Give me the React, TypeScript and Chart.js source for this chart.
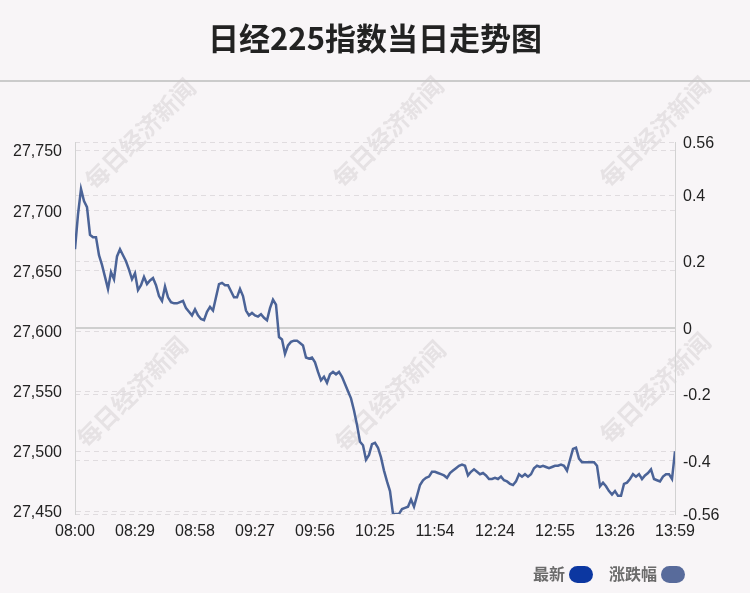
import React, { useEffect, useRef } from "react";
import { Chart, registerables } from "chart.js";

Chart.register(...registerables);

const titleText = "日经225指数当日走势图";
const watermarkText = "每日经济新闻";
const timeLabels = ["08:00", "08:29", "08:58", "09:27", "09:56", "10:25", "11:54", "12:24", "12:55", "13:26", "13:59"];
const priceTicks = [27450, 27500, 27550, 27600, 27650, 27700, 27750];
const pctTicks = [-0.56, -0.4, -0.2, 0, 0.2, 0.4, 0.56];
const prevClose = 27602.5;
const seriesNames = ["最新", "涨跌幅"];
const legendColors = ["#0c37a1", "#586b9b"];

const prices = [
  27668, 27697, 27718, 27708, 27703, 27680, 27678, 27678, 27663, 27655,
  27645, 27635, 27649, 27643, 27662, 27668, 27663, 27658, 27651, 27643,
  27648, 27634, 27638, 27645, 27639, 27642, 27644, 27638, 27629, 27625,
  27637, 27628, 27624, 27623, 27623, 27624, 27625, 27619, 27616, 27613,
  27618, 27613, 27610, 27609, 27616, 27620, 27617, 27628, 27639, 27640,
  27638, 27638, 27633, 27628, 27628, 27635, 27629, 27617, 27613, 27615,
  27613, 27612, 27614, 27611, 27609, 27619, 27626, 27622, 27595, 27593,
  27581, 27588, 27591, 27592, 27592, 27590, 27588, 27578, 27577, 27578,
  27574, 27566, 27559, 27562, 27557, 27564, 27566, 27564, 27566, 27562,
  27556, 27550, 27544, 27534, 27522, 27508, 27505, 27493, 27497, 27506,
  27507, 27503, 27495, 27484, 27475, 27467, 27448, 27448, 27448, 27452,
  27453, 27454, 27460, 27454, 27463, 27472, 27476, 27478, 27479, 27483,
  27483, 27482, 27481, 27480, 27478, 27482, 27484, 27486, 27488, 27489,
  27488, 27480, 27483, 27485, 27483, 27481, 27482, 27480, 27477, 27477,
  27478, 27477, 27479, 27476, 27475, 27473, 27472, 27475, 27481, 27479,
  27481, 27479, 27481, 27486, 27488, 27487, 27488, 27487, 27486, 27487,
  27488, 27488, 27489, 27488, 27484, 27493, 27502, 27503, 27494, 27491,
  27491, 27491, 27491, 27491, 27488, 27471, 27474, 27471, 27467, 27464,
  27467, 27463, 27463, 27473, 27474, 27477, 27481, 27479, 27481, 27477,
  27480, 27482, 27485, 27477, 27476, 27475, 27479, 27481, 27481, 27477,
  27500,
];

const FONT = "'Liberation Sans', Arial, sans-serif";
const CJK = "'Noto Sans CJK SC', 'Noto Sans', sans-serif";

const decorPlugin = {
  id: "decor",
  beforeDraw(chart: any) {
    const ctx = chart.ctx as CanvasRenderingContext2D;
    ctx.save();
    // title
    ctx.fillStyle = "#222";
    ctx.font = `bold 31px ${CJK}`;
    ctx.textAlign = "center";
    ctx.textBaseline = "middle";
    ctx.fillText(titleText, 375, 38);
    // separator
    ctx.strokeStyle = "#bdbdbd";
    ctx.lineWidth = 1.5;
    ctx.beginPath();
    ctx.moveTo(0, 81);
    ctx.lineTo(750, 81);
    ctx.stroke();
    // watermarks
    const spots = [
      [140, 134], [388, 132], [655, 132],
      [132, 392], [390, 396], [655, 388],
    ];
    ctx.font = `bold 24px ${CJK}`;
    ctx.fillStyle = "rgba(200,194,198,0.38)";
    for (const [x, y] of spots) {
      ctx.save();
      ctx.translate(x, y);
      ctx.rotate(-Math.PI / 4);
      ctx.fillText(watermarkText, 0, 0);
      ctx.restore();
    }
    ctx.restore();
  },
  afterDraw(chart: any) {
    const ctx = chart.ctx as CanvasRenderingContext2D;
    ctx.save();
    ctx.font = `bold 16px ${CJK}`;
    ctx.textBaseline = "middle";
    ctx.textAlign = "right";
    const items = [
      { textRight: 565, pillX: 569 },
      { textRight: 657, pillX: 661 },
    ];
    items.forEach((it, i) => {
      ctx.fillStyle = "#6b6b6b";
      ctx.fillText(seriesNames[i], it.textRight, 574);
      ctx.fillStyle = legendColors[i];
      ctx.beginPath();
      (ctx as any).roundRect(it.pillX, 566, 24, 17, 8.5);
      ctx.fill();
    });
    ctx.restore();
  },
};

export default function App() {
  const ref = useRef<HTMLCanvasElement | null>(null);

  useEffect(() => {
    if (!ref.current) return;
    const pctMax = pctTicks[pctTicks.length - 1];
    const pctMin = pctTicks[0];
    const priceMin = prevClose * (1 + pctMin / 100);
    const priceMax = prevClose * (1 + pctMax / 100);
    const priceData = prices.map((p, i) => ({ x: i, y: p }));
    const pctData = prices.map((p, i) => ({ x: i, y: (p / prevClose - 1) * 100 }));
    const lastIndex = prices.length - 1;
    const step = lastIndex / (timeLabels.length - 1);

    const chart = new Chart(ref.current, {
      type: "line",
      data: {
        datasets: [
          {
            label: seriesNames[0],
            data: priceData,
            yAxisID: "y",
            borderColor: "#4b6397",
            borderWidth: 2.5,
            pointRadius: 0,
            tension: 0,
            fill: false,
          },
          {
            label: seriesNames[1],
            data: pctData,
            yAxisID: "y1",
            borderColor: "rgba(0,0,0,0)",
            borderWidth: 0,
            pointRadius: 0,
            fill: false,
          },
        ],
      },
      options: {
        responsive: false,
        animation: false,
        events: [],
        layout: { padding: { top: 142, left: 0, right: 0, bottom: 0 } },
        plugins: {
          legend: { display: false },
          title: { display: false },
          tooltip: { enabled: false },
        },
        scales: {
          x: {
            type: "linear",
            min: 0,
            max: lastIndex,
            afterBuildTicks: (s: any) => {
              s.ticks = timeLabels.map((_, i) => ({ value: i * step }));
            },
            afterFit: (s: any) => {
              s.height = 79;
            },
            ticks: {
              callback: (v: any) => timeLabels[Math.round(Number(v) / step)] ?? "",
              font: { family: FONT, size: 16 },
              color: "#222",
              padding: 8,
              maxRotation: 0,
              autoSkip: false,
            },
            grid: { display: false, drawTicks: false },
            border: { display: false },
          },
          y: {
            type: "linear",
            position: "left",
            min: priceMin,
            max: priceMax,
            afterBuildTicks: (s: any) => {
              s.ticks = priceTicks.map((v) => ({ value: v }));
            },
            afterFit: (s: any) => {
              s.width = 75;
            },
            ticks: {
              callback: (v: any) => Number(v).toLocaleString("en-US"),
              font: { family: FONT, size: 16 },
              color: "#222",
              padding: 13,
              labelOffset: 1.5,
            },
            grid: { color: "#e0dcdf", lineWidth: 1, drawTicks: false },
            border: { display: true, color: "#d2d2d2", width: 1, dash: [5, 4] },
          },
          y1: {
            type: "linear",
            position: "right",
            min: pctMin,
            max: pctMax,
            afterBuildTicks: (s: any) => {
              s.ticks = pctTicks.map((v) => ({ value: v }));
            },
            afterFit: (s: any) => {
              s.width = 75;
            },
            ticks: {
              callback: (v: any) => String(Number(v)),
              font: { family: FONT, size: 16 },
              color: "#222",
              padding: 8,
              labelOffset: 1.5,
            },
            grid: {
              color: (c: any) => (c.tick && c.tick.value === 0 ? "#cfcfcf" : "#e0dcdf"),
              lineWidth: (c: any) => (c.tick && c.tick.value === 0 ? 2 : 1),
              drawTicks: false,
            },
            border: {
              display: true,
              color: "#d2d2d2",
              width: 1,
              dash: (c: any) => (c.tick && c.tick.value === 0 ? [] : [5, 4]),
            },
          },
        },
      },
      plugins: [decorPlugin],
    } as any);

    return () => chart.destroy();
  }, []);

  return (
    <div style={{ position: "fixed", left: 0, top: 0, width: 750, height: 593, background: "#f8f5f7" }}>
      <canvas ref={ref} width={750} height={593} style={{ display: "block" }} />
    </div>
  );
}
